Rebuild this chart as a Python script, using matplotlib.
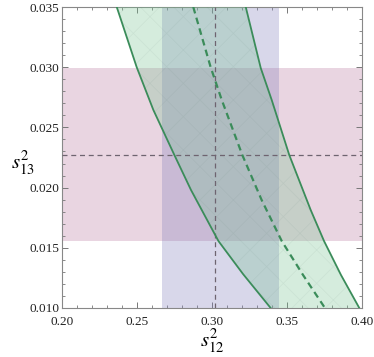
import numpy as np
import matplotlib.pyplot as plt
from matplotlib.ticker import MultipleLocator

plt.rcParams['font.family'] = ['Liberation Serif', 'DejaVu Serif']
plt.rcParams['mathtext.fontset'] = 'stix'
plt.rcParams['hatch.linewidth'] = 0.5

# experimental best fit and allowed ranges
s12_best = 0.302
s13_best = 0.0227
s12_range = [0.2669, 0.3445]
s13_range = [0.0156, 0.0299]

# predicted band as (s13^2, s12^2) pairs
left_s13 = [0.0350, 0.0300, 0.02645, 0.02271, 0.01980, 0.01556, 0.01282, 0.0100]
left_s12 = [0.2365, 0.2498, 0.2609, 0.2749, 0.2860, 0.3043, 0.3207, 0.3391]

right_s13 = [0.0350, 0.02993, 0.02728, 0.02271, 0.01814, 0.01556, 0.01274, 0.0100]
right_s12 = [0.3225, 0.3325, 0.3398, 0.3515, 0.3658, 0.3747, 0.3860, 0.3982]

mid_s13 = [0.0350, 0.0300, 0.02728, 0.02271, 0.01897, 0.01556, 0.01274, 0.0100]
mid_s12 = [0.2875, 0.2991, 0.3065, 0.3202, 0.3331, 0.3465, 0.3607, 0.3753]

pink = (185/255, 118/255, 158/255)
blue = (128/255, 125/255, 188/255)
green = (118/255, 195/255, 145/255)
line_green = '#3b8c5a'
gray = '#6e6470'

fig = plt.figure(figsize=(3.74, 3.57), dpi=100)
ax = fig.add_axes([62/374, 1 - 308/357, 300/374, 301/357])

# measured ranges
ax.axhspan(s13_range[0], s13_range[1], color=pink, alpha=0.3, lw=0, zorder=1)
ax.axvspan(s12_range[0], s12_range[1], color=blue, alpha=0.3, lw=0, zorder=2)

# predicted region between the two solid curves
poly_x = np.concatenate([left_s12, right_s12[::-1]])
poly_y = np.concatenate([left_s13, right_s13[::-1]])
ax.fill(poly_x, poly_y, facecolor=green + (0.3,), edgecolor=(0.3, 0.45, 0.4, 0.08),
        hatch='x', lw=0, zorder=3)

ax.axvline(s12_best, color=gray, ls=(0, (4, 3)), lw=0.9, zorder=4)
ax.axhline(s13_best, color=gray, ls=(0, (4, 3)), lw=0.9, zorder=4)

ax.plot(left_s12, left_s13, color=line_green, lw=1.3, zorder=5)
ax.plot(right_s12, right_s13, color=line_green, lw=1.3, zorder=5)
ax.plot(mid_s12, mid_s13, color=line_green, lw=1.6, ls=(0, (3, 2)), zorder=5)

ax.set_xlim(0.20, 0.40)
ax.set_ylim(0.010, 0.035)
ax.xaxis.set_major_locator(MultipleLocator(0.05))
ax.xaxis.set_minor_locator(MultipleLocator(0.01))
ax.yaxis.set_major_locator(MultipleLocator(0.005))
ax.yaxis.set_minor_locator(MultipleLocator(0.001))
ax.xaxis.set_major_formatter(plt.FuncFormatter(lambda v, p: f"{v:.2f}"))
ax.yaxis.set_major_formatter(plt.FuncFormatter(lambda v, p: f"{v:.3f}"))

ax.tick_params(which='both', direction='in', top=True, right=True, color='#777777',
               labelsize=9.5, labelcolor='#222222')
ax.tick_params(axis='x', pad=6)
ax.tick_params(axis='y', pad=2)
ax.tick_params(which='major', length=4, width=0.7)
ax.tick_params(which='minor', length=2, width=0.6)
for sp in ax.spines.values():
    sp.set_color('#888888')
    sp.set_linewidth(0.8)

fig.text(212/374, 1 - 341/357, r'$s_{12}^{2}$', fontsize=15, ha='center', va='center')
fig.text(23/374, 1 - 163/357, r'$s_{13}^{2}$', fontsize=15, ha='center', va='center')

fig.savefig('out.png', dpi=100)
